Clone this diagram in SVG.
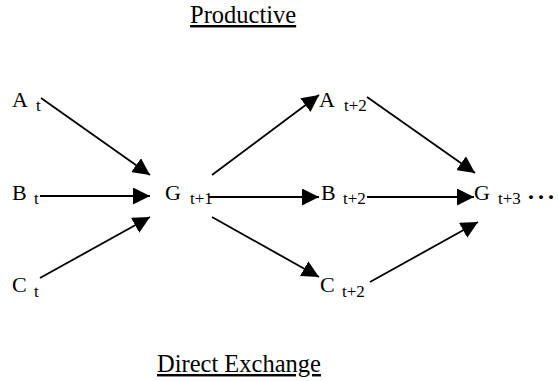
<svg xmlns="http://www.w3.org/2000/svg" width="558" height="381" viewBox="0 0 558 381">
<style>
text { font-family: "Liberation Serif", "Times New Roman", serif; fill: #000; }
.title { font-size: 24.5px; text-decoration: underline; }
.lbl { font-size: 22px; }
.sub { font-size: 17px; }
.dots { font-size: 24px; font-weight: bold; }
.conn line { stroke: #000; stroke-width: 1.8; marker-end: url(#arrow); }
</style>
<defs>
<marker id="arrow" markerUnits="userSpaceOnUse" markerWidth="17" markerHeight="17" refX="17" refY="8.5" orient="auto">
<path d="M0,0 L17,8.5 L0,17 z" fill="#000"/>
</marker>
</defs>
<rect width="558" height="381" fill="#fff"/>
<text class="title" x="190" y="23">Productive</text>
<text class="title" x="157" y="372">Direct Exchange</text>
<g id="connectors" class="conn">
<line x1="41" y1="98" x2="150" y2="175"/>
<line x1="40" y1="196" x2="150" y2="196"/>
<line x1="40" y1="278" x2="150" y2="217"/>
<line x1="212" y1="175" x2="319" y2="95"/>
<line x1="209" y1="197" x2="319" y2="197"/>
<line x1="212" y1="217" x2="319" y2="277"/>
<line x1="367" y1="97" x2="475" y2="173"/>
<line x1="367" y1="197" x2="474" y2="197"/>
<line x1="370" y1="282" x2="478" y2="222"/>
</g>
<g id="node-At"><text class="lbl" x="12" y="107">A<tspan class="sub" x="36" y="111">t</tspan></text></g>
<g id="node-Bt"><text class="lbl" x="12" y="200">B<tspan class="sub" x="34" y="204">t</tspan></text></g>
<g id="node-Ct"><text class="lbl" x="12" y="292">C<tspan class="sub" x="34" y="297">t</tspan></text></g>
<g id="node-Gt1"><text class="lbl" x="165" y="200">G<tspan class="sub" x="190" y="204">t+1</tspan></text></g>
<g id="node-At2"><text class="lbl" x="319" y="107">A<tspan class="sub" x="344" y="111">t+2</tspan></text></g>
<g id="node-Bt2"><text class="lbl" x="321" y="200">B<tspan class="sub" x="343" y="204">t+2</tspan></text></g>
<g id="node-Ct2"><text class="lbl" x="320" y="292">C<tspan class="sub" x="342" y="297">t+2</tspan></text></g>
<g id="node-Gt3"><text class="lbl" x="474" y="200">G<tspan class="sub" x="498" y="204">t+3</tspan><tspan class="dots" x="527 537 547" y="205">···</tspan></text></g>
</svg>
